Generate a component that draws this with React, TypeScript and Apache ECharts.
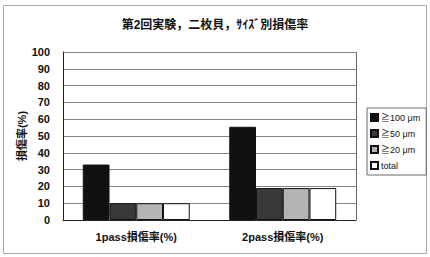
import React, { useEffect, useRef } from "react";
import * as echarts from "echarts";

const categories = ["1pass損傷率(%)", "2pass損傷率(%)"];
const seriesNames = ["≧100 μm", "≧50 μm", "≧20 μm", "total"];
const v100 = [33, 55.5];
const v50 = [10, 19];
const v20 = [10, 19];
const vTotal = [10, 19];
const colors = ["#111111", "#3a3a3a", "#b4b4b4", "#ffffff"];
const yTicks = [0, 10, 20, 30, 40, 50, 60, 70, 80, 90, 100];

const FONT = "'Liberation Sans', 'Noto Sans CJK JP', sans-serif";

export default function App() {
  const ref = useRef<HTMLDivElement>(null);
  useEffect(() => {
    if (!ref.current) return;
    const chart = echarts.init(ref.current, null, { renderer: "svg" });
    const values = [v100, v50, v20, vTotal];
    chart.setOption({
      animation: false,
      backgroundColor: "#ffffff",
      textStyle: { fontFamily: FONT },
      title: {
        text: "第2回実験，二枚貝，ｻｲｽﾞ別損傷率",
        left: "center",
        top: 14,
        textStyle: { fontSize: 12, fontWeight: "bold", color: "#111", fontFamily: FONT },
      },
      graphic: [
        {
          type: "rect",
          shape: { x: 3.5, y: 5.5, width: 423, height: 248 },
          style: { fill: "none", stroke: "#aaaaaa", lineWidth: 1 },
          silent: true,
        },
        {
          type: "line",
          shape: { x1: 356.5, y1: 52, x2: 356.5, y2: 220 },
          style: { stroke: "#666", lineWidth: 1 },
          silent: true,
        },
      ],
      legend: {
        orient: "vertical",
        left: 367,
        top: 108,
        itemWidth: 7,
        itemHeight: 7,
        itemGap: 7,
        padding: [5, 6, 5, 3],
        borderColor: "#666",
        borderWidth: 1,
        icon: "rect",
        textStyle: { fontSize: 9, color: "#111", fontFamily: FONT, padding: [0, 0, 0, -2] },
        data: seriesNames,
      },
      grid: { left: 63, right: 74, top: 52, bottom: 37 },
      xAxis: {
        type: "category",
        data: categories,
        axisTick: { show: false },
        axisLine: { lineStyle: { color: "#222", width: 1 } },
        axisLabel: { fontSize: 11, fontWeight: "bold", color: "#111", margin: 11, fontFamily: FONT },
      },
      yAxis: {
        type: "value",
        min: yTicks[0],
        max: yTicks[yTicks.length - 1],
        interval: 10,
        name: "損傷率(%)",
        nameLocation: "middle",
        nameRotate: 90,
        nameGap: 36,
        nameMoveOverlap: false,
        nameTextStyle: { fontSize: 11, fontWeight: "bold", color: "#111", fontFamily: FONT },
        axisLine: { show: true, lineStyle: { color: "#222", width: 1 } },
        axisTick: { show: false },
        axisLabel: { fontSize: 11, fontWeight: "bold", color: "#111", margin: 13, fontFamily: FONT },
        splitLine: { show: true, lineStyle: { color: "#888", width: 1 } },
      },
      series: seriesNames.map((name, i) => ({
        name,
        type: "bar",
        data: values[i],
        barGap: "0%",
        barCategoryGap: "27%",
        itemStyle: { color: colors[i], borderColor: "#111", borderWidth: 1 },
      })),
    });
    return () => chart.dispose();
  }, []);
  return (
    <div
      ref={ref}
      style={{ position: "fixed", left: 0, top: 0, width: 430, height: 257 }}
    />
  );
}
